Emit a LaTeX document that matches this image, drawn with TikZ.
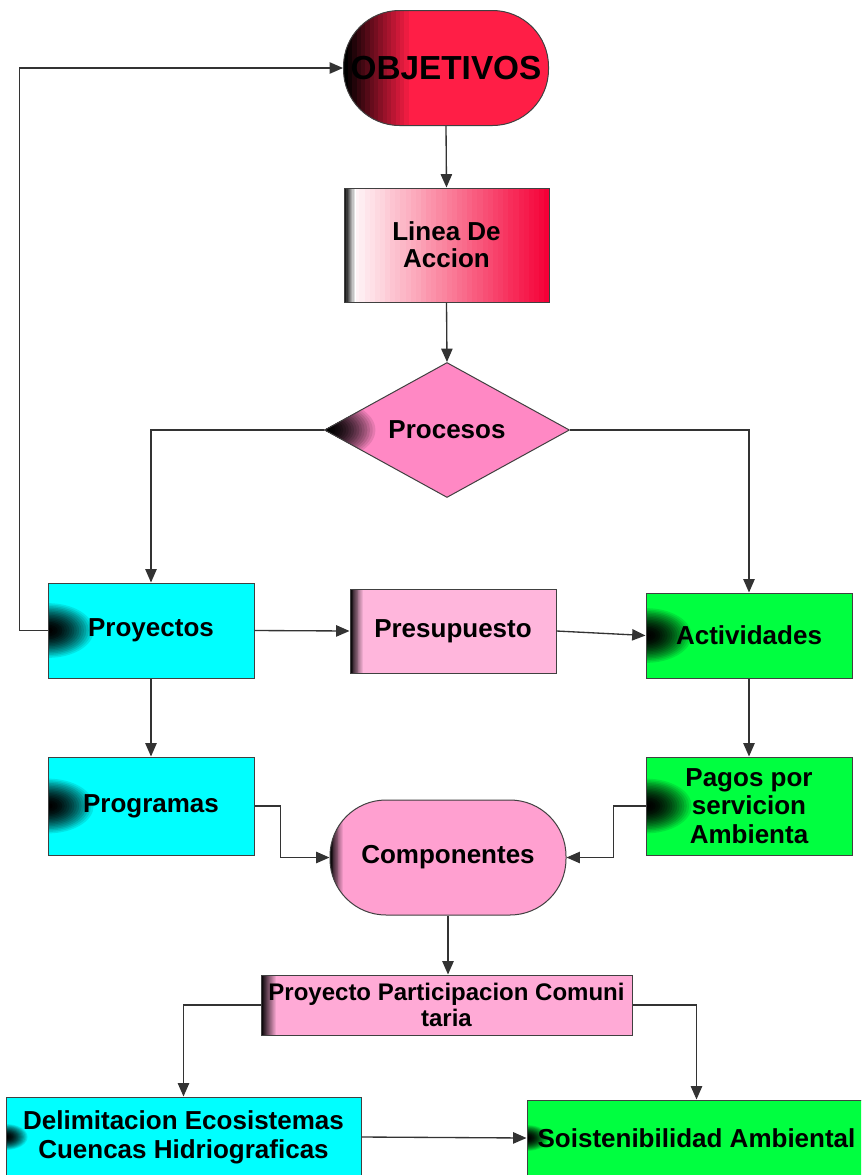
\documentclass[tikz,border=0pt]{standalone}
\usepackage{fontspec}
\setmainfont{Liberation Sans}
\usetikzlibrary{shapes.geometric,arrows.meta}

\definecolor{rojoObj}{RGB}{255,30,70}
\definecolor{rojoLinea}{RGB}{245,0,55}
\definecolor{rosaProc}{RGB}{255,136,196}
\definecolor{rosaPres}{RGB}{255,182,220}
\definecolor{rosaComp}{RGB}{255,160,208}
\definecolor{rosaPart}{RGB}{255,170,214}
\definecolor{celeste}{RGB}{0,255,255}
\definecolor{verde}{RGB}{0,255,64}

\tikzset{every picture/.style={line width=0.75pt}}
\tikzset{
  caja/.style={draw=black!75, align=center, inner sep=0.75pt,
    font=\fontsize{19.5}{21.5}\selectfont\bfseries},
  % dark spot on the left side
  mancha/.style 2 args={fill=#1, path picture={
    \foreach \k in {0,...,19}{
      \pgfmathtruncatemacro\p{100*(1-\k/20)^2}
      \pgfmathsetmacro\rx{#2*(1-\k/20)}
      \pgfmathsetmacro\ry{0.6*#2*(1-\k/20)}
      \fill[sharp corners, #1!\p!black] (path picture bounding box.west) ellipse (\rx pt and \ry pt);}}},
  % dark strip on the left edge
  franja/.style 2 args={fill=#1, path picture={
    \foreach \k in {0,...,15}{
      \pgfmathtruncatemacro\p{100*\k/15}
      \fill[sharp corners, #1!\p!black] ([xshift={\k*#2/16}]path picture bounding box.south west)
        rectangle ([xshift={(\k+1.1)*#2/16}]path picture bounding box.north west);}}},
  flecha/.style={draw=black!80, line width=1pt, -{Triangle[length=10pt,width=8.5pt]}},
}

\begin{document}
\begin{tikzpicture}[x=0.75pt,y=0.75pt,yscale=-1,xscale=1]
\useasboundingbox (0,0) rectangle (861,1175);
\clip (0,0) rectangle (861,1175);

%Rounded Rect [id:obj]
\node [caja, rounded corners=42pt, minimum width=153.75pt, minimum height=86.25pt,
  franja={rojoObj}{52pt}, font=\fontsize{25}{28}\selectfont\bfseries] (obj) at (446,68) {OBJETIVOS};
%Shape: Rectangle [id:linea]
\node [caja, minimum width=153.75pt, minimum height=85.5pt,
  path picture={
    \foreach \k in {0,...,39}{
      \pgfmathtruncatemacro\p{100*\k/39}
      \fill[rojoLinea!\p!white] ([xshift={\k*154pt/40}]path picture bounding box.south west)
        rectangle ([xshift={(\k+1.1)*154pt/40}]path picture bounding box.north west);}
    \foreach \k in {0,...,9}{
      \pgfmathtruncatemacro\p{100*\k/9}
      \fill[white!\p!black] ([xshift={\k*0.9pt}]path picture bounding box.south west)
        rectangle ([xshift={(\k+1.1)*0.9pt}]path picture bounding box.north west);}},
  font=\fontsize{19.5}{20.5}\selectfont\bfseries] (linea) at (446.5,245) {Linea De\\Accion};
%Shape: Diamond [id:proc]
\node [caja, diamond, aspect=1.8, minimum width=183.75pt, minimum height=101.25pt,
  mancha={rosaProc}{40}] (proc) at (447,430) {Procesos};

%Shape: Rectangle [id:proy]
\node [caja, minimum width=154.5pt, minimum height=71.25pt, mancha={celeste}{36}] (proy) at (151,630.5) {Proyectos};
%Shape: Rectangle [id:pres]
\node [caja, minimum width=154.5pt, minimum height=63pt, franja={rosaPres}{10pt}] (pres) at (453,631) {Presupuesto};
%Shape: Rectangle [id:act]
\node [caja, minimum width=154.5pt, minimum height=63.75pt, mancha={verde}{36}] (act) at (749,635.5) {Actividades};
%Shape: Rectangle [id:prog]
\node [caja, minimum width=154.5pt, minimum height=73.5pt, mancha={celeste}{36}] (prog) at (151,806) {Programas};
%Shape: Rectangle [id:pagos]
\node [caja, minimum width=154.5pt, minimum height=73.5pt, mancha={verde}{36}] (pagos) at (749,806) {Pagos por\\servicion\\Ambienta};
%Rounded Rect [id:comp]
\node [caja, rounded corners=42pt, minimum width=177pt, minimum height=86.25pt,
  franja={rosaComp}{10pt}] (comp) at (448,857.5) {Componentes};
%Shape: Rectangle [id:part]
\node [caja, minimum width=278.25pt, minimum height=45pt, franja={rosaPart}{12pt},
  font=\fontsize{18}{19.5}\selectfont\bfseries] (part) at (446.5,1005) {Proyecto Participacion Comuni\\taria};
%Shape: Rectangle [id:delim]
\node [caja, minimum width=266.25pt, minimum height=60pt, mancha={celeste}{17}] (delim) at (183.5,1137) {Delimitacion Ecosistemas\\Cuencas Hidriograficas};
%Shape: Rectangle [id:sost]
\node [caja, minimum width=254.25pt, minimum height=57pt, mancha={verde}{17}] (sost) at (696.5,1138) {Soistenibilidad Ambiental};

%Straight Lines
\draw [flecha] (obj.south) -- (linea.north);
\draw [flecha] (linea.south) -- (proc.north);
\draw [flecha] (proc.west) -| (proy.north);
\draw [flecha] (proc.east) -| (act.north);
\draw [flecha] (proy.west) -- ++(-28,0) |- (obj.west);
\draw [flecha] (proy.east) -- (pres.west);
\draw [flecha] (pres.east) -- (act.west);
\draw [flecha] (proy.south) -- (prog.north);
\draw [flecha] (act.south) -- (pagos.north);
\draw [flecha] (prog.east) -- ++(26,0) |- (comp.west);
\draw [flecha] (pagos.west) -- ++(-32,0) |- (comp.east);
\draw [flecha] (comp.south) -- (comp.south |- part.north);
\draw [flecha] (part.west) -| (delim.north);
\draw [flecha] (part.east) -| (sost.north);
\draw [flecha] (delim.east) -- (sost.west);

\end{tikzpicture}
\end{document}
